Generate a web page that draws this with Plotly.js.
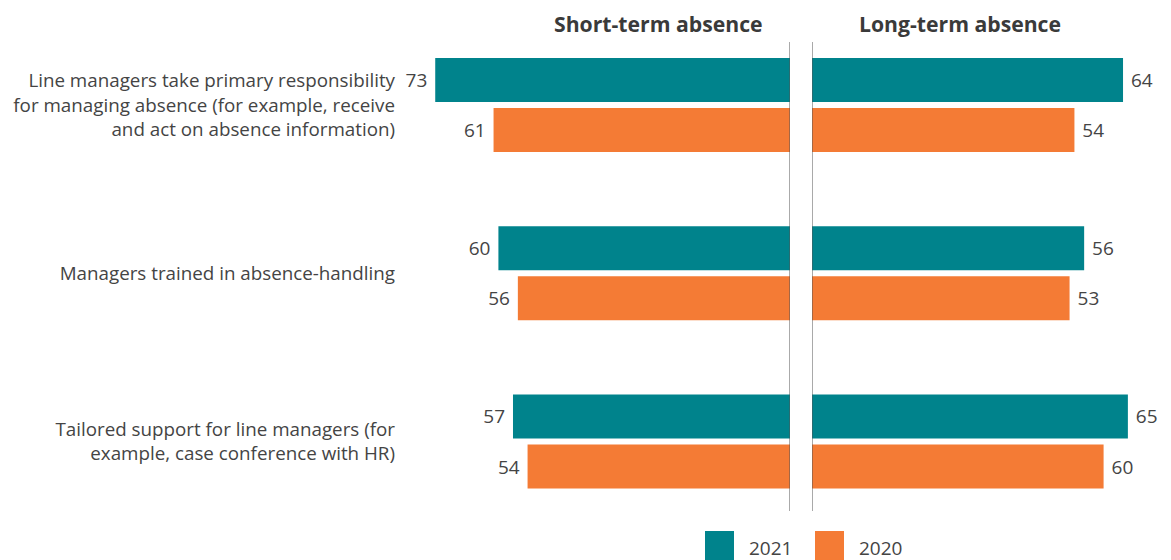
<!DOCTYPE html>
<html>
<head>
<meta charset="utf-8">
<script src="https://cdn.plot.ly/plotly-3.0.1.min.js"></script>
<style>html,body{margin:0;padding:0;background:#fff;}#chart{width:1171px;height:560px;}</style>
</head>
<body>
<div id="chart"></div>
<script>
const categories = [
  "Line managers take primary responsibility<br>for managing absence (for example, receive<br>and act on absence information)",
  "Managers trained in absence-handling",
  "Tailored support for line managers (for<br>example, case conference with HR)"
];
const panelTitles = ["Short-term absence", "Long-term absence"];
const seriesNames = ["2021", "2020"];
const shortTerm2021 = [73, 60, 57];
const shortTerm2020 = [61, 56, 54];
const longTerm2021 = [64, 56, 65];
const longTerm2020 = [54, 53, 60];

const teal = "#00838c";
const orange = "#f47b35";
const textColor = "#444444";
const FONT = "Open Sans, sans-serif";
const NB = "\u00a0";

function bar(vals, name, color, xa, side) {
  return {
    type: "bar", orientation: "h",
    y: categories, x: vals, name: name,
    xaxis: xa, yaxis: "y",
    marker: {color: color},
    text: vals.map(v => side === "left" ? v + NB : NB + v),
    textposition: "outside",
    cliponaxis: false,
    textfont: {family: FONT, size: 19, color: textColor},
    hoverinfo: "x+name",
    showlegend: false
  };
}

const data = [
  bar(shortTerm2021, seriesNames[0], teal, "x", "left"),
  bar(shortTerm2020, seriesNames[1], orange, "x", "left"),
  bar(longTerm2021, seriesNames[0], teal, "x2", "right"),
  bar(longTerm2020, seriesNames[1], orange, "x2", "right")
];

const W = 1171, H = 560;
const px = v => v / W, py = v => 1 - v / H;

const layout = {
  width: W, height: H,
  margin: {l: 0, r: 0, t: 0, b: 0},
  paper_bgcolor: "#fff", plot_bgcolor: "rgba(0,0,0,0)",
  barmode: "group", bargap: 0.405, bargroupgap: 0.12,
  font: {family: FONT, color: textColor},
  xaxis: {domain: [px(400), px(790)], range: [80.25, 0], visible: false, fixedrange: true},
  xaxis2: {domain: [px(812), 1], range: [0, 73.87], visible: false, fixedrange: true},
  yaxis: {
    domain: [py(525.6), py(20.9)], autorange: "reversed",
    showline: false, showgrid: false, zeroline: false, ticks: "",
    tickfont: {family: FONT, size: 18.8, color: textColor},
    ticklabelstandoff: 4,
    anchor: "x", fixedrange: true
  },
  shapes: [
    {type: "line", xref: "x", yref: "paper", x0: 0, x1: 0, y0: py(42), y1: py(511), line: {color: "#555", width: 1}},
    {type: "line", xref: "x2", yref: "paper", x0: 0, x1: 0, y0: py(42), y1: py(511), line: {color: "#555", width: 1}},
    {type: "rect", xref: "paper", yref: "paper", x0: px(705), x1: px(734), y0: py(531), y1: py(562), fillcolor: teal, line: {width: 0}},
    {type: "rect", xref: "paper", yref: "paper", x0: px(815), x1: px(844), y0: py(531), y1: py(562), fillcolor: orange, line: {width: 0}}
  ],
  annotations: [
    {xref: "paper", yref: "paper", x: px(658), y: py(24), text: "<b>" + panelTitles[0] + "</b>", showarrow: false, xanchor: "center", yanchor: "middle", font: {family: FONT, size: 21.2, color: "#3a3a3a"}},
    {xref: "paper", yref: "paper", x: px(960), y: py(24), text: "<b>" + panelTitles[1] + "</b>", showarrow: false, xanchor: "center", yanchor: "middle", font: {family: FONT, size: 21.2, color: "#3a3a3a"}},
    {xref: "paper", yref: "paper", x: px(747), y: py(548), text: seriesNames[0], showarrow: false, xanchor: "left", yanchor: "middle", font: {family: FONT, size: 19, color: textColor}},
    {xref: "paper", yref: "paper", x: px(857), y: py(548), text: seriesNames[1], showarrow: false, xanchor: "left", yanchor: "middle", font: {family: FONT, size: 19, color: textColor}}
  ]
};

Plotly.newPlot("chart", data, layout, {displayModeBar: false, staticPlot: false});
</script>
</body>
</html>
